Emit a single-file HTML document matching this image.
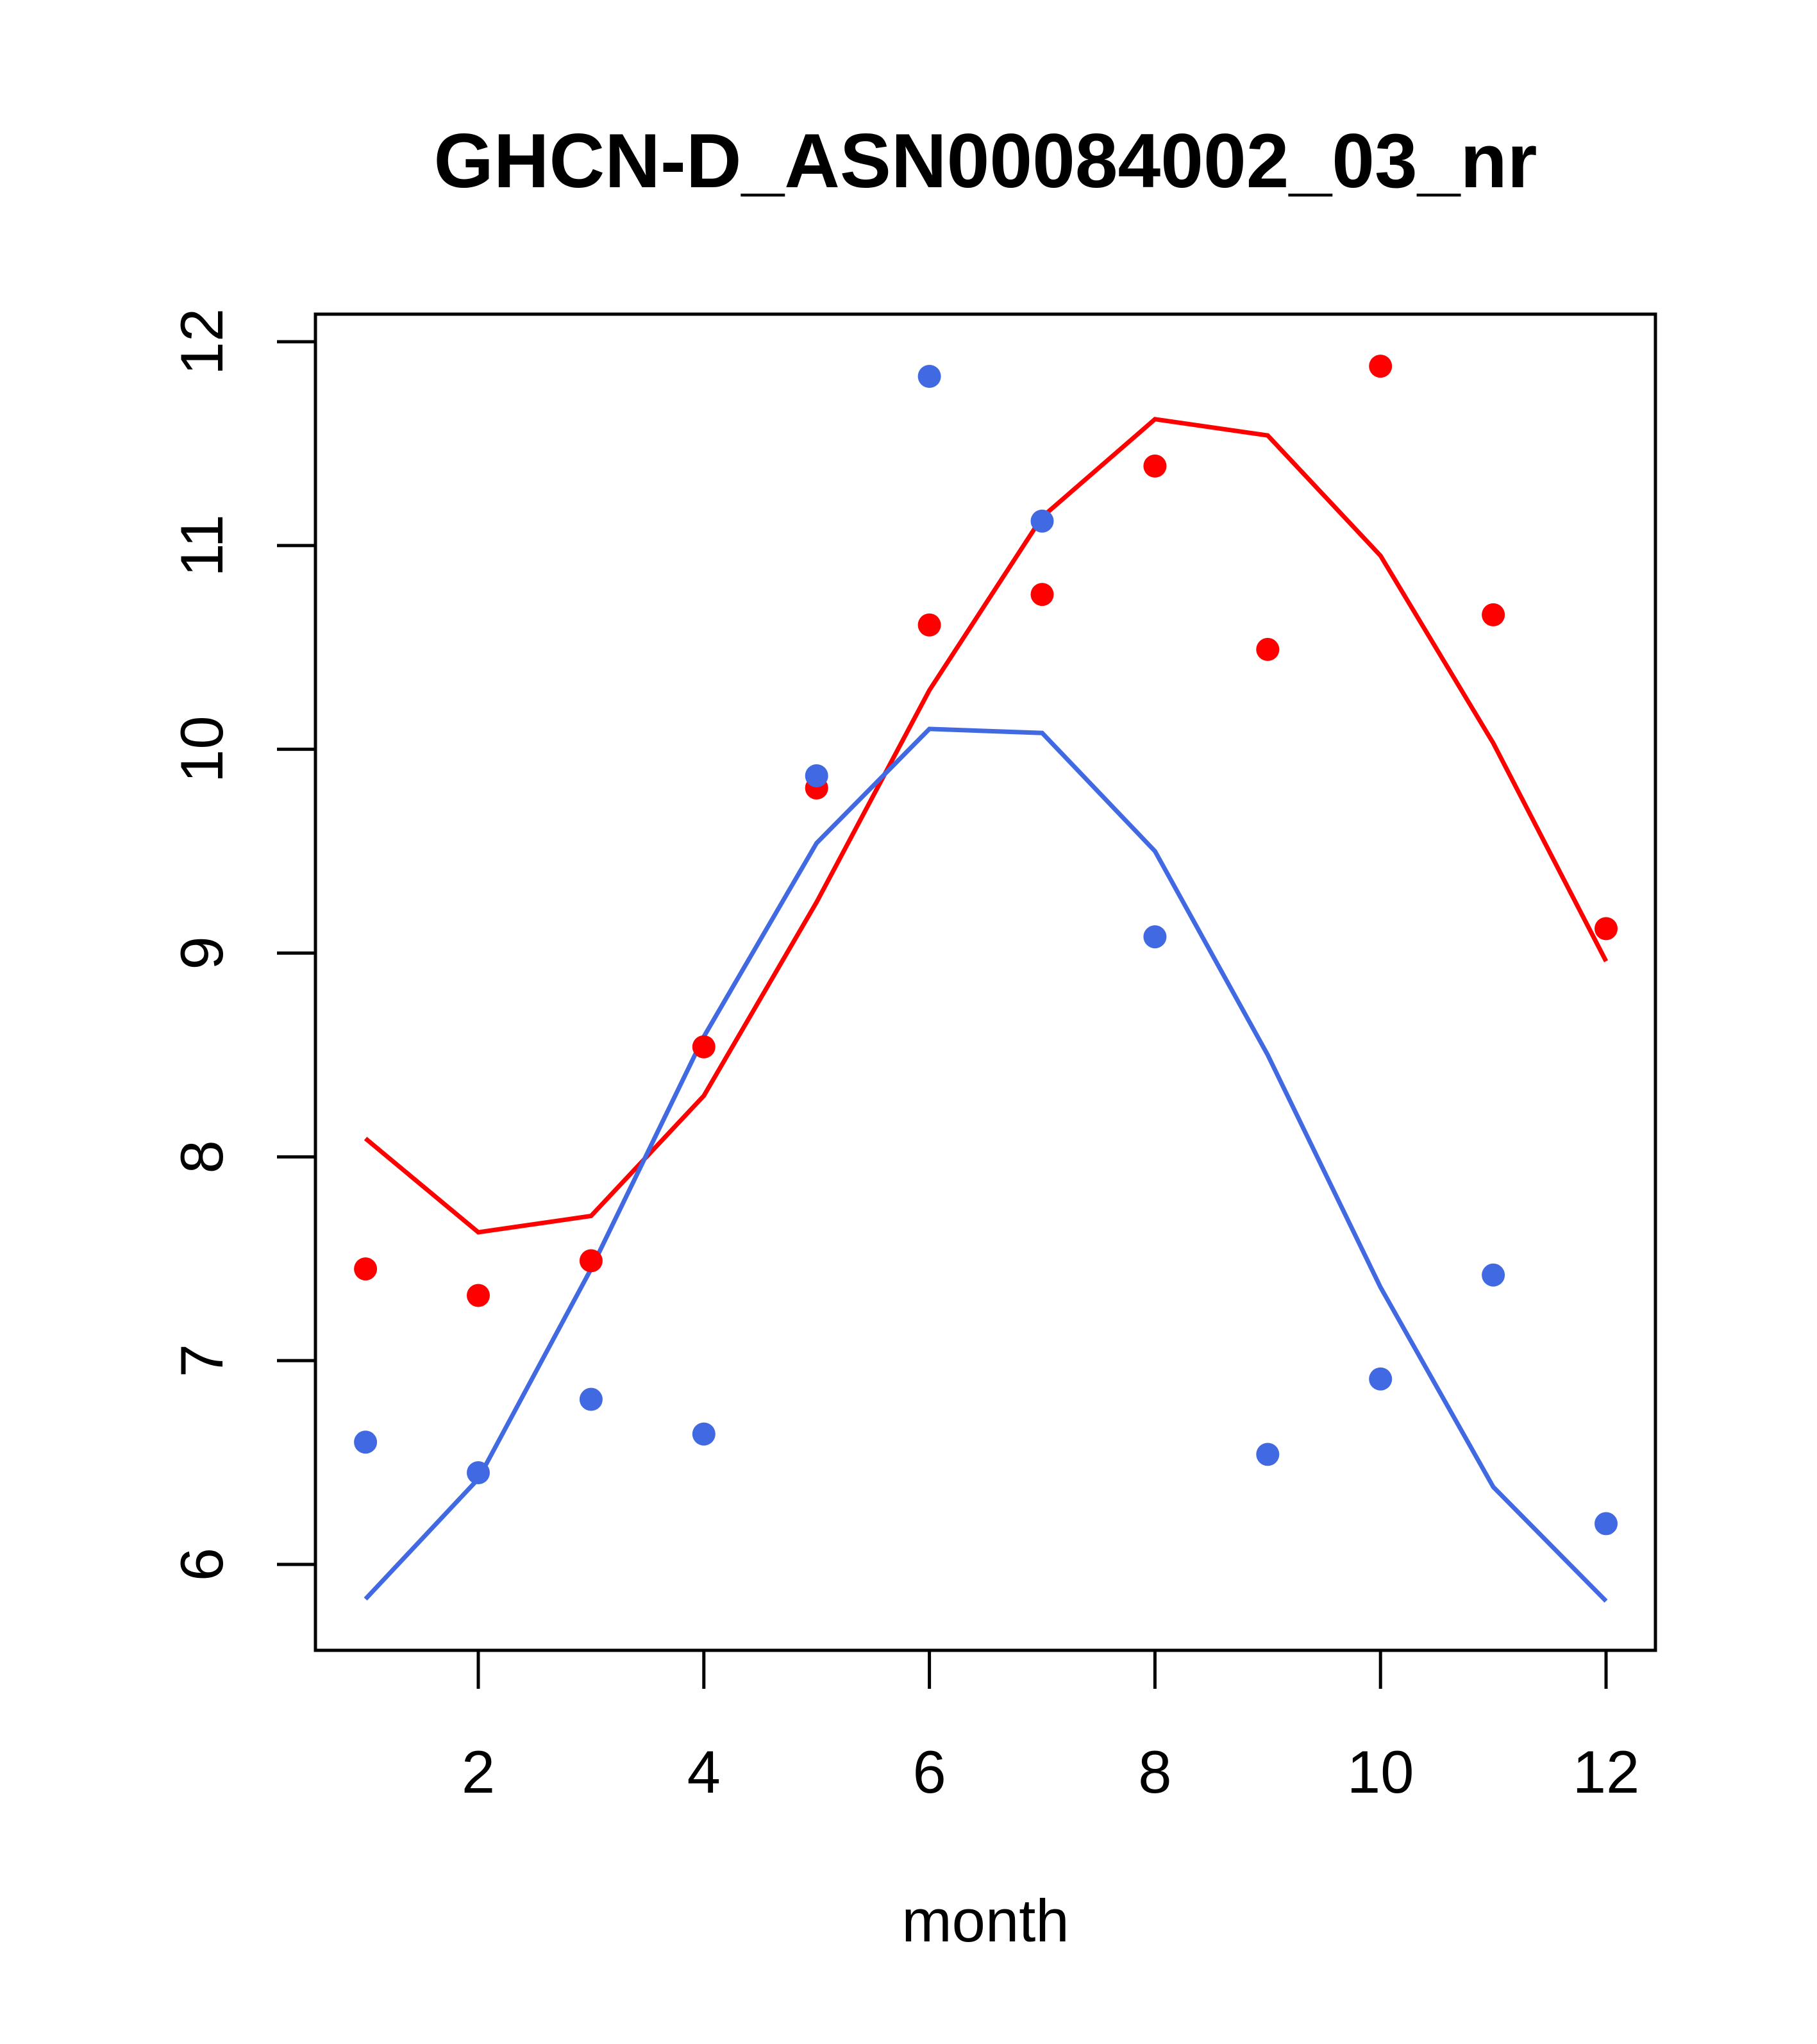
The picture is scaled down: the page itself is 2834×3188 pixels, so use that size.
<!DOCTYPE html>
<html><head><meta charset="utf-8"><style>body{margin:0;background:#fff}svg{display:block}text{font-family:"Liberation Sans",sans-serif}</style></head>
<body>
<svg id="c" width="2834" height="3188" viewBox="0 0 2834 3188">
<text x="1537" y="292" font-size="120" font-weight="bold" text-anchor="middle">GHCN-D_ASN00084002_03_nr</text>
<rect x="492" y="490" width="2090" height="2084" fill="none" stroke="#000" stroke-width="5"/>
<text x="1537" y="3028" font-size="94" text-anchor="middle">month</text>
<g id="ax"></g><g id="marks"></g>
</svg>
<script>
const months=[1,2,3,4,5,6,7,8,9,10,11,12];
const redPoints=[7.45,7.32,7.49,8.54,9.81,10.61,10.76,11.39,10.49,11.88,10.66,9.12];
const redLine=[8.09,7.63,7.71,8.30,9.25,10.29,11.14,11.62,11.54,10.95,10.03,8.96];
const bluePoints=[6.60,6.45,6.81,6.64,9.87,11.83,11.12,9.08,6.54,6.91,7.42,6.20];
const blueLine=[5.83,6.42,7.45,8.59,9.54,10.10,10.08,9.50,8.50,7.36,6.38,5.82];
const xTicks=[2,4,6,8,10,12];
const yTicks=[6,7,8,9,10,11,12];
const NS="http://www.w3.org/2000/svg";
const X=m=>746+(m-2)*(2505-746)/10;
const Y=v=>2440-(v-6)*(2440-533)/6;
const ax=document.getElementById('ax'),mk=document.getElementById('marks');
function el(t,a,p){const e=document.createElementNS(NS,t);for(const k in a)e.setAttribute(k,a[k]);p.appendChild(e);return e;}
el('line',{x1:X(2),x2:X(12),y1:2574,y2:2574,stroke:'#000','stroke-width':5},ax);
xTicks.forEach(t=>{
 const l=el('line',{x1:X(t),x2:X(t),y1:2574,y2:2634,stroke:'#000','stroke-width':5},ax);
 
 
 const tx=el('text',{x:X(t),y:2796,'font-size':94,'text-anchor':'middle'},ax);tx.textContent=t;
 
 
});
yTicks.forEach(t=>{
 const l=el('line',{x1:432,x2:492,y1:Y(t),y2:Y(t),stroke:'#000','stroke-width':5},ax);
 
 
 const tx=el('text',{x:347,y:Y(t),'font-size':94,'text-anchor':'middle',transform:`rotate(-90 347 ${Y(t)})`},ax);tx.textContent=t;
 
 
});
function line(vals,c,name){const p=el('polyline',{points:vals.map((v,i)=>X(months[i])+','+Y(v)).join(' '),fill:'none',stroke:c,'stroke-width':7},mk);
 
 }
function pts(vals,c,name){vals.forEach((v,i)=>{const e=el('circle',{cx:X(months[i]),cy:Y(v),r:18,fill:c},mk);
 
 });}
line(redLine,'#ff0000','red-line');
line(blueLine,'#4169e1','blue-line');
pts(redPoints,'#ff0000','red-point');
pts(bluePoints,'#4169e1','blue-point');
</script>
</body></html>
